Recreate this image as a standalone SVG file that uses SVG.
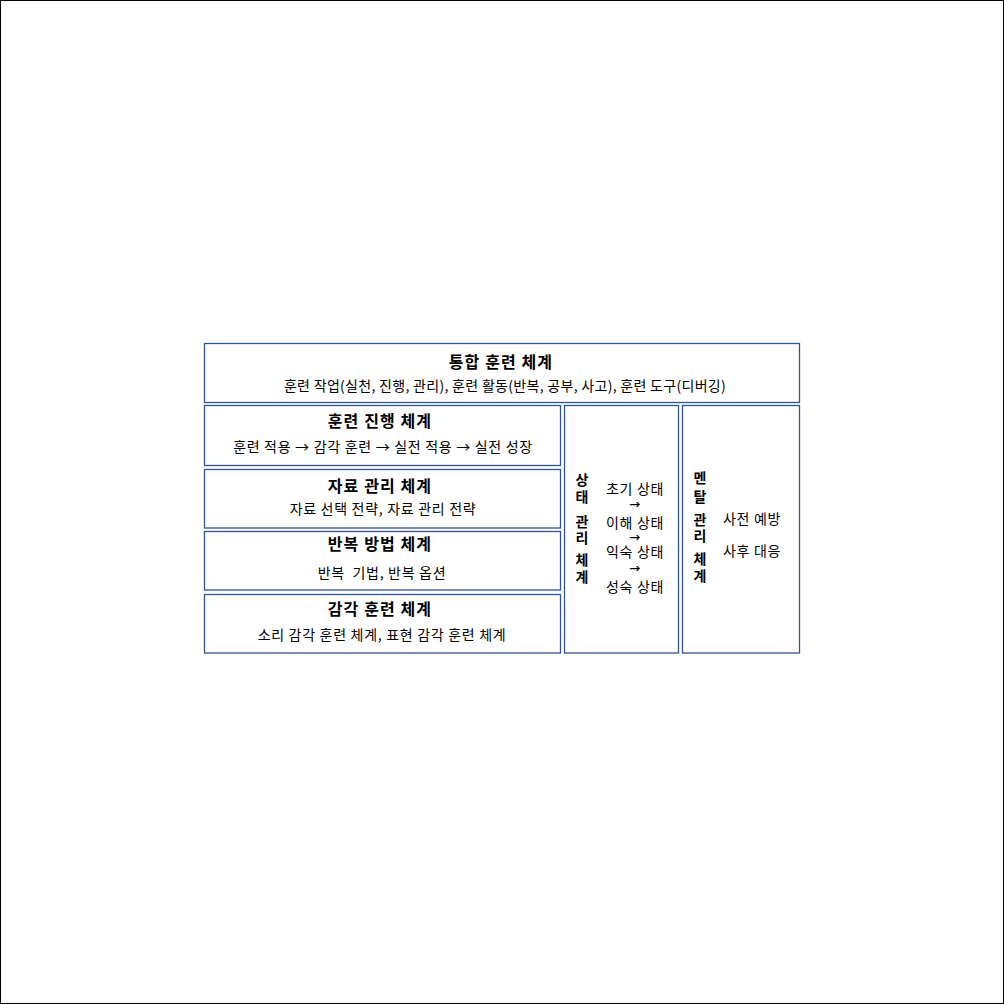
<svg xmlns="http://www.w3.org/2000/svg" width="1004" height="1004" viewBox="0 0 1004 1004">
<style>
.box{fill:#ffffff;stroke:#2F5597;stroke-width:1.3}
text{font-family:"Noto Sans CJK KR","Noto Sans",sans-serif;fill:#000000}
.t{font-size:16px;font-weight:bold;text-anchor:middle;letter-spacing:1.1px}
.s{font-size:14px;text-anchor:middle;letter-spacing:0.7px}
.s2{font-size:14px;text-anchor:middle;letter-spacing:0.3px}
.v{font-size:14px;font-weight:bold;text-anchor:middle}
.a{font-size:11px;font-weight:bold;text-anchor:middle}
</style>
<rect x="0.5" y="0.5" width="1003" height="1003" fill="#ffffff" stroke="#000000" stroke-width="1"/>
<g id="connectors"/>
<g id="integrated">
<rect class="box" x="204.5" y="343.5" width="595" height="59"/>
<text class="t" x="501" y="368">통합 훈련 체계</text>
<text class="s2" x="505" y="390.5">훈련 작업(실천, 진행, 관리), 훈련 활동(반복, 공부, 사고), 훈련 도구(디버깅)</text>
</g>
<g id="progress">
<rect class="box" x="204.5" y="405.5" width="356" height="60"/>
<text class="t" x="380" y="427">훈련 진행 체계</text>
<text class="s" x="383" y="452">훈련 적용 → 감각 훈련 → 실전 적용 → 실전 성장</text>
</g>
<g id="material">
<rect class="box" x="204.5" y="469.5" width="356" height="58.5"/>
<text class="t" x="380" y="491.8">자료 관리 체계</text>
<text class="s" x="383" y="513.6">자료 선택 전략, 자료 관리 전략</text>
</g>
<g id="repeat">
<rect class="box" x="204.5" y="531.5" width="356" height="58.5"/>
<text class="t" x="380" y="550.4">반복 방법 체계</text>
<text class="s" x="382" y="577.6" xml:space="preserve">반복  기법, 반복 옵션</text>
</g>
<g id="sense">
<rect class="box" x="204.5" y="594.5" width="356" height="58.5"/>
<text class="t" x="380" y="615">감각 훈련 체계</text>
<text class="s" x="382" y="640.3">소리 감각 훈련 체계, 표현 감각 훈련 체계</text>
</g>
<g id="state">
<rect class="box" x="564.5" y="405.5" width="114" height="247.5"/>
<text class="v" x="582" y="485.3">상</text>
<text class="v" x="582" y="502.3">태</text>
<text class="v" x="582" y="527">관</text>
<text class="v" x="582" y="543.3">리</text>
<text class="v" x="582" y="565.3">체</text>
<text class="v" x="582" y="582">계</text>
<text class="s" x="635" y="493.5">초기 상태</text>
<text class="a" x="635" y="509">→</text>
<text class="s" x="635" y="527.5">이해 상태</text>
<text class="a" x="635" y="541.5">→</text>
<text class="s" x="635" y="557">익숙 상태</text>
<text class="a" x="635" y="573">→</text>
<text class="s" x="635" y="592">성숙 상태</text>
</g>
<g id="mental">
<rect class="box" x="682.5" y="405.5" width="117" height="247.5"/>
<text class="v" x="700" y="483.3">멘</text>
<text class="v" x="700" y="502">탈</text>
<text class="v" x="700" y="525.3">관</text>
<text class="v" x="700" y="541.3">리</text>
<text class="v" x="700" y="564.3">체</text>
<text class="v" x="700" y="581.3">계</text>
<text class="s" x="752" y="524.3">사전 예방</text>
<text class="s" x="752" y="556">사후 대응</text>
</g>
</svg>
